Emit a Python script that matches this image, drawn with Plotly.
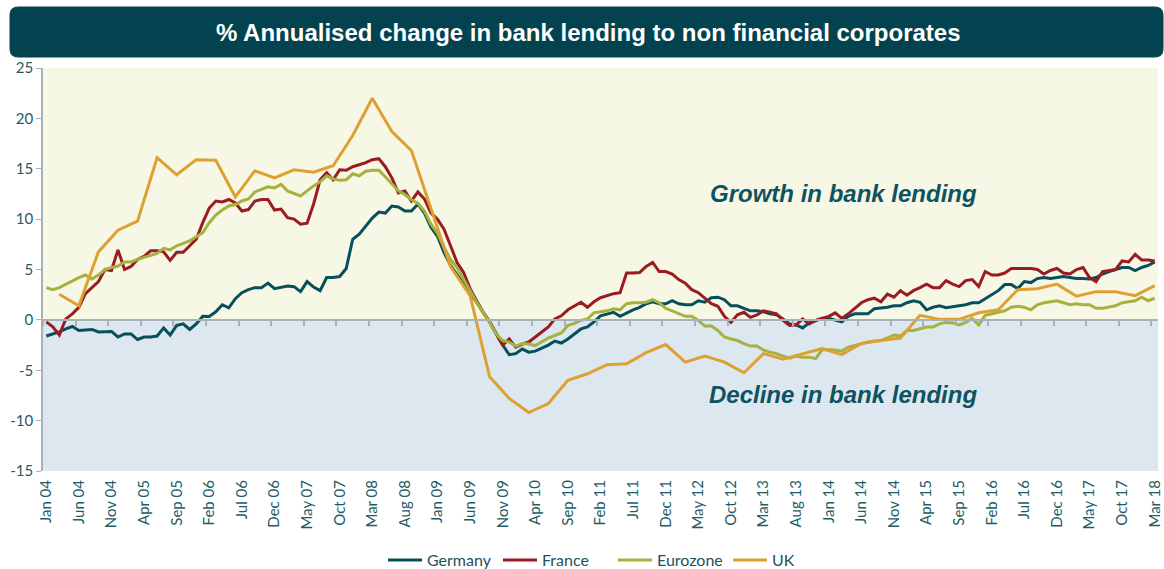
import plotly.graph_objects as go

# monthly categories Jan 04 .. Mar 18
MONTH_NAMES = ["Jan", "Feb", "Mar", "Apr", "May", "Jun",
               "Jul", "Aug", "Sep", "Oct", "Nov", "Dec"]
months = [f"{m} {y:02d}" for y in range(4, 19) for m in MONTH_NAMES][:171]

germany = [
    -1.6, -1.4, -1.2, -0.9, -0.66, -1.05, -1.0, -0.95, -1.2, -1.15,
    -1.15, -1.7, -1.4, -1.4, -1.95, -1.7, -1.7, -1.6, -0.8, -1.5,
    -0.55, -0.4, -0.95, -0.4, 0.36, 0.33, 0.8, 1.5, 1.2, 2.1,
    2.7, 3.0, 3.2, 3.2, 3.65, 3.1, 3.2, 3.35, 3.3, 2.8,
    3.8, 3.25, 2.9, 4.2, 4.2, 4.3, 5.1, 8.0, 8.5, 9.3,
    10.1, 10.7, 10.6, 11.3, 11.2, 10.8, 10.8, 11.5, 10.6, 9.2,
    8.3, 6.7, 5.4, 4.5, 3.6, 2.6, 1.75, 0.75, -0.2, -1.4,
    -2.5, -3.45, -3.35, -2.9, -3.2, -3.1, -2.8, -2.5, -2.1, -2.3,
    -1.9, -1.4, -0.9, -0.7, -0.2, 0.4, 0.6, 0.75, 0.35, 0.7,
    1.0, 1.25, 1.6, 1.8, 1.6, 1.6, 1.9, 1.6, 1.5, 1.5,
    1.9, 1.75, 2.2, 2.25, 2.0, 1.4, 1.4, 1.15, 0.9, 0.9,
    0.8, 0.6, 0.5, 0.1, -0.4, -0.5, -0.8, -0.3, -0.1, 0.15,
    0.15, 0.0, -0.2, 0.35, 0.6, 0.6, 0.6, 1.1, 1.15, 1.25,
    1.4, 1.4, 1.7, 1.9, 1.75, 1.0, 1.25, 1.4, 1.2, 1.3,
    1.4, 1.5, 1.7, 1.7, 2.1, 2.5, 2.9, 3.5, 3.5, 3.1,
    3.8, 3.7, 4.1, 4.2, 4.1, 4.2, 4.3, 4.2, 4.1, 4.1,
    4.05, 4.2, 4.55, 4.8, 5.0, 5.2, 5.2, 4.9, 5.2, 5.4,
    5.75,
]

france = [
    -0.2, -0.7, -1.5, 0.1, 0.6, 1.25, 2.6, 3.2, 3.8, 5.0,
    4.9, 6.95, 5.0, 5.3, 6.0, 6.3, 6.85, 6.85, 6.75, 5.9,
    6.7, 6.7, 7.35, 8.0, 9.65, 11.1, 11.8, 11.7, 11.95, 11.6,
    10.8, 10.95, 11.8, 11.95, 11.95, 10.9, 11.0, 10.15, 10.0, 9.5,
    9.6, 11.5, 13.9, 14.6, 13.9, 14.9, 14.85, 15.2, 15.4, 15.6,
    15.9, 16.0, 15.2, 14.1, 12.6, 12.8, 11.8, 12.7, 12.0, 10.6,
    10.0, 9.0, 7.35, 5.7, 4.7, 3.1, 1.9, 0.75, -0.2, -1.4,
    -2.5, -1.9, -2.7, -2.4, -2.2, -1.7, -1.2, -0.7, 0.1, 0.4,
    1.0, 1.4, 1.75, 1.25, 1.8, 2.2, 2.4, 2.6, 2.7, 4.65,
    4.65, 4.7, 5.3, 5.7, 4.8, 4.8, 4.55, 4.0, 3.65, 3.0,
    2.7, 2.1, 1.6, 1.35, 0.35, -0.25, 0.5, 0.75, 0.25, 0.5,
    0.9, 0.75, 0.6, -0.05, -0.55, -0.5, 0.1, -0.4, -0.05, 0.15,
    0.35, 0.7, 0.15, 0.6, 1.15, 1.7, 2.0, 2.15, 1.8, 2.55,
    2.25, 2.9, 2.45, 2.9, 3.2, 3.55, 3.2, 3.2, 3.9, 3.55,
    3.3, 3.9, 4.0, 3.3, 4.8, 4.45, 4.45, 4.65, 5.1, 5.1,
    5.1, 5.1, 5.0, 4.55, 4.9, 5.1, 4.65, 4.55, 5.0, 5.2,
    4.2, 3.8, 4.8, 4.9, 5.0, 5.85, 5.75, 6.5, 5.95, 5.95,
    5.85,
]

eurozone = [
    3.2, 3.0, 3.2, 3.55, 3.9, 4.2, 4.45, 4.05, 4.45, 5.0,
    5.2, 5.35, 5.75, 5.75, 6.0, 6.2, 6.4, 6.6, 7.1, 6.95,
    7.35, 7.6, 7.85, 8.25, 8.65, 9.65, 10.4, 10.9, 11.3, 11.45,
    11.8, 12.0, 12.7, 12.95, 13.2, 13.1, 13.45, 12.8, 12.55, 12.3,
    12.8, 13.3, 13.7, 14.3, 14.0, 13.85, 13.9, 14.5, 14.3, 14.75,
    14.85, 14.85, 14.2, 13.55, 12.8, 12.45, 11.95, 11.55, 10.8, 9.5,
    8.6, 7.2, 6.0, 5.2, 4.05, 2.75, 1.75, 0.75, -0.25, -1.4,
    -2.05, -2.2, -2.6, -2.35, -2.4, -2.55, -2.2, -1.8, -1.55, -1.3,
    -0.55, -0.35, -0.05, 0.1, 0.7, 0.8, 0.9, 1.1, 1.0, 1.6,
    1.7, 1.7, 1.75, 2.0, 1.7, 1.15, 0.9, 0.6, 0.35, 0.35,
    -0.05, -0.6, -0.6, -1.05, -1.7, -1.9, -2.05, -2.35, -2.6, -2.6,
    -3.0, -3.2, -3.35, -3.6, -3.8, -3.6, -3.7, -3.7, -3.85, -2.95,
    -2.95, -3.0, -3.1, -2.7, -2.55, -2.35, -2.2, -2.1, -2.05, -1.8,
    -1.5, -1.6, -1.05, -1.05, -0.9, -0.7, -0.7, -0.4, -0.25, -0.3,
    -0.5, -0.25, 0.15, -0.5, 0.45, 0.6, 0.75, 0.9, 1.25, 1.35,
    1.25, 1.0, 1.5, 1.7, 1.8, 1.9, 1.7, 1.5, 1.6, 1.5,
    1.5, 1.15, 1.15, 1.25, 1.4, 1.7, 1.8, 1.9, 2.25, 1.9,
    2.15,
]

# UK is quarterly: Mar 04, Jun 04, ... Mar 18
uk_months = months[2::3]
uk = [
    2.55, 1.4, 6.75, 8.9, 9.8, 16.1, 14.4, 15.9, 15.85, 12.2,
    14.8, 14.1, 14.9, 14.65, 15.3, 18.3, 22.0, 18.7, 16.8, 11.0,
    5.3, 2.4, -5.65, -7.8, -9.2, -8.3, -6.0, -5.35, -4.45, -4.35,
    -3.25, -2.45, -4.2, -3.6, -4.2, -5.25, -3.35, -3.9, -3.35, -2.85,
    -3.45, -2.35, -2.05, -1.8, 0.45, 0.05, 0.05, 0.7, 1.0, 3.0,
    3.1, 3.55, 2.35, 2.8, 2.8, 2.4, 3.4,
]

y_ticks = [-15, -10, -5, 0, 5, 10, 15, 20, 25]

series = [
    ("Germany", months, germany, "#07505B"),
    ("France", months, france, "#9B1C20"),
    ("Eurozone", months, eurozone, "#A6B13F"),
    ("UK", uk_months, uk, "#DFA032"),
]

TEAL = "#1D5C67"
AXIS_GREY = "#A7B2B8"
W, H = 1164, 569
ML, MR, MT, MB = 43, 6, 68, 98
PW, PH = W - ML - MR, H - MT - MB


def px(x, y):
    """pixel position -> paper coords"""
    return (x - ML) / PW, (H - MB - y) / PH


fig = go.Figure()

for name, xs, ys, color in series:
    fig.add_trace(go.Scatter(
        x=xs, y=ys, name=name, mode="lines",
        line=dict(color=color, width=3),
    ))

# invisible trace that carries the zero-crossing axis
fig.add_trace(go.Scatter(
    x=months, y=germany, xaxis="x2", mode="lines",
    line=dict(width=0), opacity=0, showlegend=False, hoverinfo="skip",
))

# background bands
fig.add_shape(type="rect", xref="paper", yref="y", x0=0, x1=1, y0=0, y1=25,
              fillcolor="#F7F7E6", line_width=0, layer="below")
fig.add_shape(type="rect", xref="paper", yref="y", x0=0, x1=1, y0=-15, y1=0,
              fillcolor="#DCE7F0", line_width=0, layer="below")

# title banner (rounded rectangle)
x0, y1 = px(10, 7)
x1, y0 = px(1163, 57)
rx, ry = 8 / PW, 8 / PH
path = (f"M {x0+rx},{y1} L {x1-rx},{y1} Q {x1},{y1} {x1},{y1-ry} "
        f"L {x1},{y0+ry} Q {x1},{y0} {x1-rx},{y0} L {x0+rx},{y0} "
        f"Q {x0},{y0} {x0},{y0+ry} L {x0},{y1-ry} Q {x0},{y1} {x0+rx},{y1} Z")
fig.add_shape(type="path", xref="paper", yref="paper", path=path,
              fillcolor="#03434F", line=dict(color="#03434F", width=1))

tx, ty = px(588, 33)
fig.add_annotation(
    x=tx, y=ty, xref="paper", yref="paper", showarrow=False,
    xanchor="center", yanchor="middle",
    text="<b>% Annualised change in bank lending to non financial corporates</b>",
    font=dict(family="Liberation Sans, Arial", size=24, color="white"),
)

ax, _ = px(843, 0)
for label, yv in [("Growth in bank lending", 12.5), ("Decline in bank lending", -7.4)]:
    fig.add_annotation(
        x=ax, y=yv, xref="paper", yref="y", showarrow=False,
        xanchor="center", yanchor="middle",
        text=f"<b><i>{label}</i></b>",
        font=dict(family="Liberation Sans, Arial", size=24, color="#0E5360"),
    )

lx, ly = px(383, 560)
fig.update_layout(
    width=W, height=H,
    margin=dict(l=ML, r=MR, t=MT, b=MB, autoexpand=False),
    paper_bgcolor="white",
    plot_bgcolor="white",
    font=dict(family="Lato, Open Sans", color=TEAL),
    showlegend=True,
    legend=dict(
        orientation="h", x=lx, xanchor="left", y=ly, yanchor="middle",
        font=dict(size=16, color="#24515C"), itemwidth=34,
        entrywidth=66, entrywidthmode="pixels",
        bgcolor="rgba(0,0,0,0)",
    ),
    xaxis=dict(
        type="category", categoryorder="array", categoryarray=months,
        range=[-0.5, 170.5], tickmode="linear", tick0=0, dtick=5,
        tickangle=-90, ticks="", showline=False, showgrid=False,
        ticklabelstandoff=5,
        tickfont=dict(size=15, color=TEAL),
    ),
    xaxis2=dict(
        type="category", categoryorder="array", categoryarray=months,
        range=[-0.5, 170.5], overlaying="x", anchor="free", position=15 / 40,
        tickmode="linear", tick0=0, dtick=5, tickson="boundaries",
        ticks="outside", ticklen=5, tickcolor=AXIS_GREY, tickwidth=1.5,
        showticklabels=False, showline=True, linecolor=AXIS_GREY, linewidth=1.5,
        showgrid=False,
    ),
    yaxis=dict(
        range=[-15, 25], tickmode="array", tickvals=y_ticks,
        ticktext=[str(v) for v in y_ticks],
        showgrid=False, zeroline=False,
        showline=True, linecolor=AXIS_GREY, linewidth=1.5,
        ticks="outside", ticklen=5, tickcolor=AXIS_GREY,
        tickfont=dict(size=15, color=TEAL),
    ),
)

fig.write_html("out.html", config={"displayModeBar": False},
               post_script="document.body.style.margin='0';")
